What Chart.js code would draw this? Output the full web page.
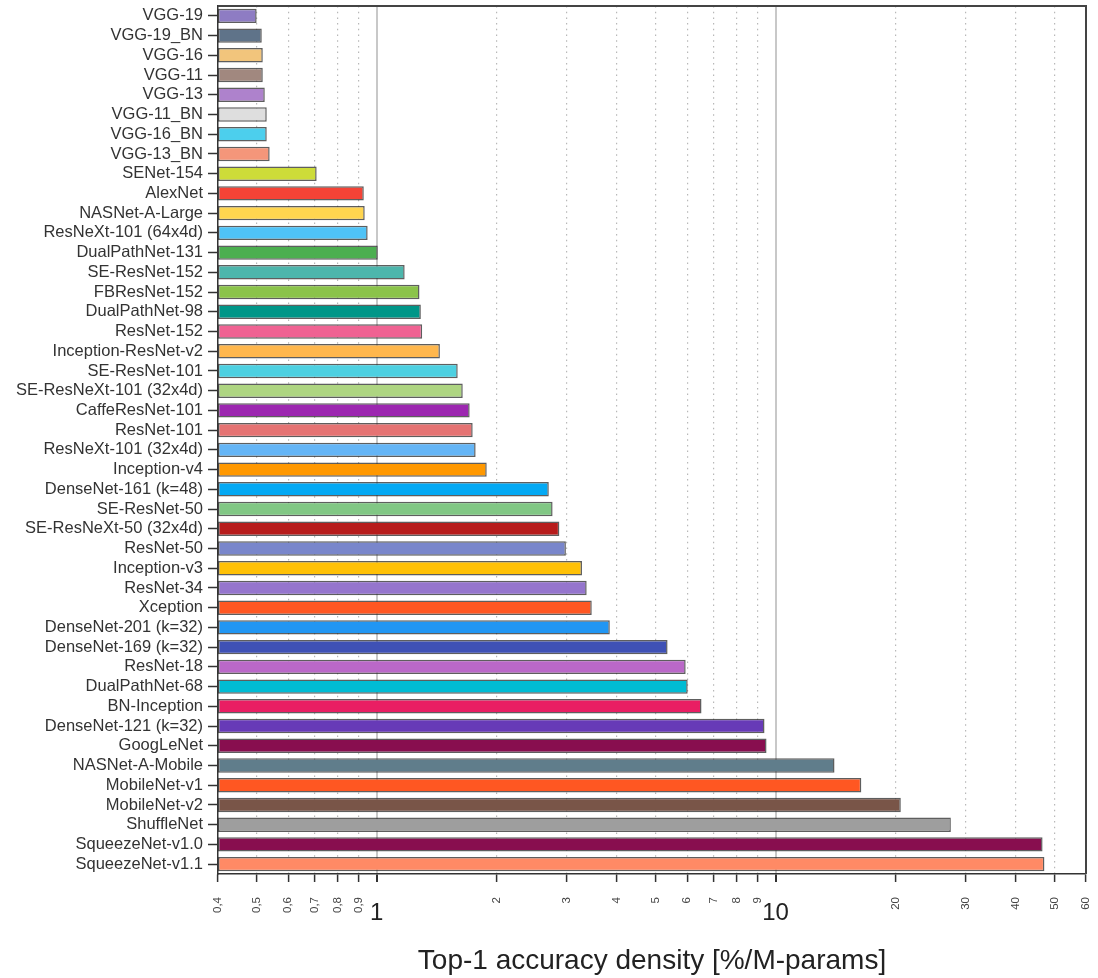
<!DOCTYPE html>
<html>
<head>
<meta charset="utf-8">
<script src="https://cdn.jsdelivr.net/npm/chart.js@4/dist/chart.umd.min.js"></script>
<style>
    html, body { margin: 0; padding: 0; background: #fff; }
    #wrap { width: 1098px; height: 978px; position: relative; }
</style>
</head>
<body>
<div id="wrap"><canvas id="density"></canvas></div>
<script>
/* DATA */

var modelNames = [
    "VGG-19", "VGG-19_BN", "VGG-16", "VGG-11", "VGG-13", "VGG-11_BN", "VGG-16_BN", "VGG-13_BN",
    "SENet-154", "AlexNet", "NASNet-A-Large", "ResNeXt-101 (64x4d)", "DualPathNet-131",
    "SE-ResNet-152", "FBResNet-152", "DualPathNet-98", "ResNet-152", "Inception-ResNet-v2",
    "SE-ResNet-101", "SE-ResNeXt-101 (32x4d)", "CaffeResNet-101", "ResNet-101",
    "ResNeXt-101 (32x4d)", "Inception-v4", "DenseNet-161 (k=48)", "SE-ResNet-50",
    "SE-ResNeXt-50 (32x4d)", "ResNet-50", "Inception-v3", "ResNet-34", "Xception",
    "DenseNet-201 (k=32)", "DenseNet-169 (k=32)", "ResNet-18", "DualPathNet-68", "BN-Inception",
    "DenseNet-121 (k=32)", "GoogLeNet", "NASNet-A-Mobile", "MobileNet-v1", "MobileNet-v2",
    "ShuffleNet", "SqueezeNet-v1.0", "SqueezeNet-v1.1"
];

// top-1 accuracy per million parameters
var accuracyDensity = [
    0.50, 0.515, 0.518, 0.518, 0.524, 0.53, 0.53, 0.539,
    0.707, 0.928, 0.933, 0.949, 1.006,
    1.175, 1.28, 1.29, 1.30, 1.44,
    1.596, 1.643, 1.71, 1.74,
    1.77, 1.887, 2.70, 2.76,
    2.87, 2.98, 3.27, 3.36, 3.46,
    3.84, 5.36, 5.95, 6.02, 6.52,
    9.38, 9.49, 14.05, 16.4, 20.6,
    27.5, 46.7, 47.2
];

var barColors = [
    "#8e7cc3", "#5f7389", "#f2c57c", "#a1887f", "#ae82cc", "#dedede", "#4ccfed", "#f4967a",
    "#cddc39", "#f44336", "#ffd54f", "#4fc3f7", "#4caf50",
    "#4db6ac", "#8bc34a", "#009688", "#f06292", "#ffb74d",
    "#4dd0e1", "#aed581", "#9c27b0", "#e57373",
    "#64b5f6", "#ff9800", "#03a9f4", "#81c784",
    "#b71c1c", "#7986cb", "#ffc107", "#9575cd", "#ff5722",
    "#2196f3", "#3f51b5", "#ba68c8", "#00bcd4", "#e91e63",
    "#673ab7", "#880e4f", "#607d8b", "#ff5722", "#795548",
    "#9e9e9e", "#880e4f", "#ff8a65"
];

var tickValues = [0.4, 0.5, 0.6, 0.7, 0.8, 0.9, 1, 2, 3, 4, 5, 6, 7, 8, 9, 10, 20, 30, 40, 50, 60];
var tickLabels = ["0,4", "0,5", "0,6", "0,7", "0,8", "0,9", "1", "2", "3", "4", "5", "6", "7", "8", "9",
                  "10", "20", "30", "40", "50", "60"];
var majorTicks = [1, 10];

var axisTitle = "Top-1 accuracy density [%/M-params]";

/* HELPERS */

var FONT = "'Liberation Sans', Arial, Helvetica, sans-serif";

function isMajor(value) {
    return majorTicks.indexOf(value) >= 0;
}

function tickValueAt(ctx) {
    if (!ctx || !ctx.tick) return null;
    return ctx.tick.value;
}

// рамка сверху и справа + подписи оси X
var frameAndLabels = {
    id: 'frameAndLabels',
    afterDraw: function (chart) {
        var ctx = chart.ctx;
        var area = chart.chartArea;
        var xs = chart.scales.x;

        ctx.save();
        ctx.strokeStyle = "#444";
        ctx.lineWidth = 2;
        ctx.beginPath();
        ctx.moveTo(area.left, area.top);
        ctx.lineTo(area.right, area.top);
        ctx.lineTo(area.right, area.bottom);
        ctx.stroke();

        tickValues.forEach(function (v, i) {
            var x = xs.getPixelForValue(v);
            if (isMajor(v)) {
                ctx.fillStyle = "#222";
                ctx.font = "24px " + FONT;
                ctx.textAlign = "center";
                ctx.textBaseline = "alphabetic";
                ctx.fillText(tickLabels[i], x, area.bottom + 46);
            } else {
                ctx.save();
                ctx.translate(x, area.bottom + 23);
                ctx.rotate(-Math.PI / 2);
                ctx.fillStyle = "#444";
                ctx.font = "11.5px " + FONT;
                ctx.textAlign = "right";
                ctx.textBaseline = "middle";
                ctx.fillText(tickLabels[i], 0, 0);
                ctx.restore();
            }
        });
        ctx.restore();
    }
};

/* CHART */

var ctx = document.getElementById('density').getContext('2d');

var densityChart = new Chart(ctx, {
    type: 'bar',
    data: {
        labels: modelNames,
        datasets: [
            {
                data: accuracyDensity,
                backgroundColor: barColors,
                borderColor: "rgba(40,40,40,0.75)",
                borderWidth: 1.5,
                borderSkipped: false,
                barPercentage: 0.73,
                categoryPercentage: 1.0
            }
        ]
    },
    options: {
        indexAxis: 'y',
        responsive: true,
        maintainAspectRatio: false,
        animation: false,
        layout: {
            padding: { top: 6, right: 12, left: 0, bottom: 0 }
        },
        scales: {
            x: {
                type: 'logarithmic',
                min: 0.4,
                max: 60,
                afterBuildTicks: function (axis) {
                    axis.ticks = tickValues.map(function (v) { return { value: v }; });
                },
                afterFit: function (axis) {
                    axis.height = 104;
                    axis.paddingLeft = 0;
                    axis.paddingRight = 0;
                },
                grid: {
                    drawOnChartArea: true,
                    drawTicks: true,
                    tickLength: 8,
                    tickColor: "#333",
                    tickWidth: function (c) { return isMajor(tickValueAt(c)) ? 2 : 1.5; },
                    color: function (c) {
                        var v = tickValueAt(c);
                        if (v === 0.4 || v === 60) return "rgba(0,0,0,0)";
                        return isMajor(v) ? "#c8c8c8" : "#b8b8b8";
                    },
                    lineWidth: function (c) { return isMajor(tickValueAt(c)) ? 2 : 1.2; }
                },
                border: {
                    display: true,
                    color: "#333",
                    width: 1.5,
                    dash: function (c) {
                        var v = tickValueAt(c);
                        if (v === null || isMajor(v)) return [];
                        return [1.5, 4.2];
                    }
                },
                ticks: {
                    display: false
                },
                title: {
                    display: true,
                    text: axisTitle,
                    color: "#222",
                    font: { family: FONT, size: 28 },
                    padding: { top: 0, bottom: 0 }
                }
            },
            y: {
                afterFit: function (axis) {
                    axis.width = 218;
                    axis.paddingTop = 0;
                    axis.paddingBottom = 0;
                },
                grid: {
                    offset: false,
                    drawOnChartArea: false,
                    drawTicks: true,
                    tickLength: 10,
                    tickColor: "#333",
                    tickWidth: 1.5
                },
                border: {
                    display: true,
                    color: "#333",
                    width: 1.5
                },
                ticks: {
                    autoSkip: false,
                    padding: 5,
                    color: "#333",
                    font: { family: FONT, size: 16.5 }
                }
            }
        },
        plugins: {
            legend: { display: false },
            tooltip: { enabled: false }
        }
    },
    plugins: [frameAndLabels]
});
</script>
</body>
</html>
